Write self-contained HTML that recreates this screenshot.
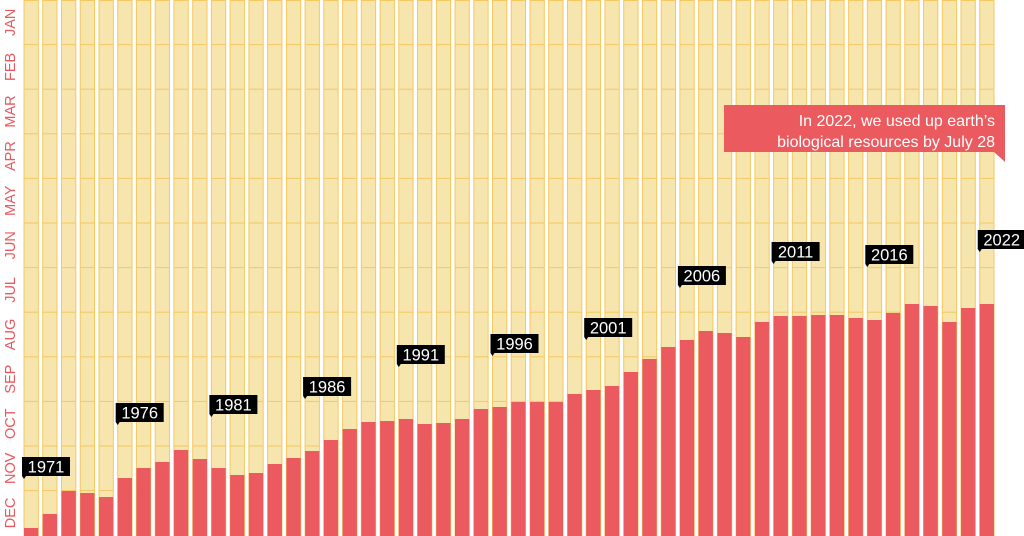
<!DOCTYPE html>
<html><head><meta charset="utf-8"><style>
html,body{margin:0;padding:0;background:#fff;}
svg{display:block;font-family:"Liberation Sans",sans-serif;}
</style></head><body>
<svg width="1024" height="536" viewBox="0 0 1024 536" xmlns="http://www.w3.org/2000/svg">
<g id="bars"></g>
<g id="months" fill="#e9585e" font-size="14.5" text-anchor="middle"></g>
<g id="labels"></g>
<path d="M724 105 H1005 V162 L994 152 H724 Z" fill="#ea5a5e"/>
<text x="995" y="126" fill="#fff" font-size="16" text-anchor="end">In 2022, we used up earth’s</text>
<text x="995" y="147" fill="#fff" font-size="16" text-anchor="end">biological resources by July 28</text>
</svg>
<script>
const NS="http://www.w3.org/2000/svg";
const tops=[528,514,491,493,497,478,468,462,450,459,468,475,473,464,458,451,440,429,422,421,419,424,423,419,409,407,402,402,402,394,390,386,372,359,347,340,331,333,337,322,316,316,315,315,318,320,313,304,306,322,308,304];
const g=document.getElementById('bars');
let h='';
for(let i=0;i<52;i++){
 const x=24+i*18.74;
 h+=`<rect x="${x.toFixed(1)}" y="0.5" width="14.3" height="536" fill="#f6e6ad" stroke="#f7c760" stroke-width="1"/>`;
 for(let k=1;k<12;k++){const y=(k*44.6).toFixed(1);h+=`<line x1="${x.toFixed(1)}" x2="${(x+14.3).toFixed(1)}" y1="${y}" y2="${y}" stroke="#f7c760" stroke-width="1"/>`;}
 h+=`<rect x="${x.toFixed(1)}" y="${tops[i]}" width="14.3" height="${540-tops[i]}" fill="#ea5a5e"/>`;
}
g.innerHTML=h;
const m=['JAN','FEB','MAR','APR','MAY','JUN','JUL','AUG','SEP','OCT','NOV','DEC'];
let mh='';
m.forEach((t,k)=>{const cy=22.3+k*44.6;mh+=`<text transform="translate(15 ${cy}) rotate(-90)" y="0">${t}</text>`;});
document.getElementById('months').innerHTML=mh;
const labs=[[0,457],[5,403],[10,395],[15,377],[20,345],[25,334],[30,318],[35,266],[40,242],[45,245],[51,230]];
let lh='';
labs.forEach(([i,y])=>{const x=22+i*18.74;const yr=1971+i;
 lh+=`<path d="M${x} ${y} h48 v19 h-44 l-2 3 l-2 -3 Z" fill="#000"/><text x="${x+24}" y="${y+15.5}" fill="#fff" font-size="16.5" text-anchor="middle">${yr}</text>`;});
document.getElementById('labels').innerHTML=lh;
</script>
</body></html>
